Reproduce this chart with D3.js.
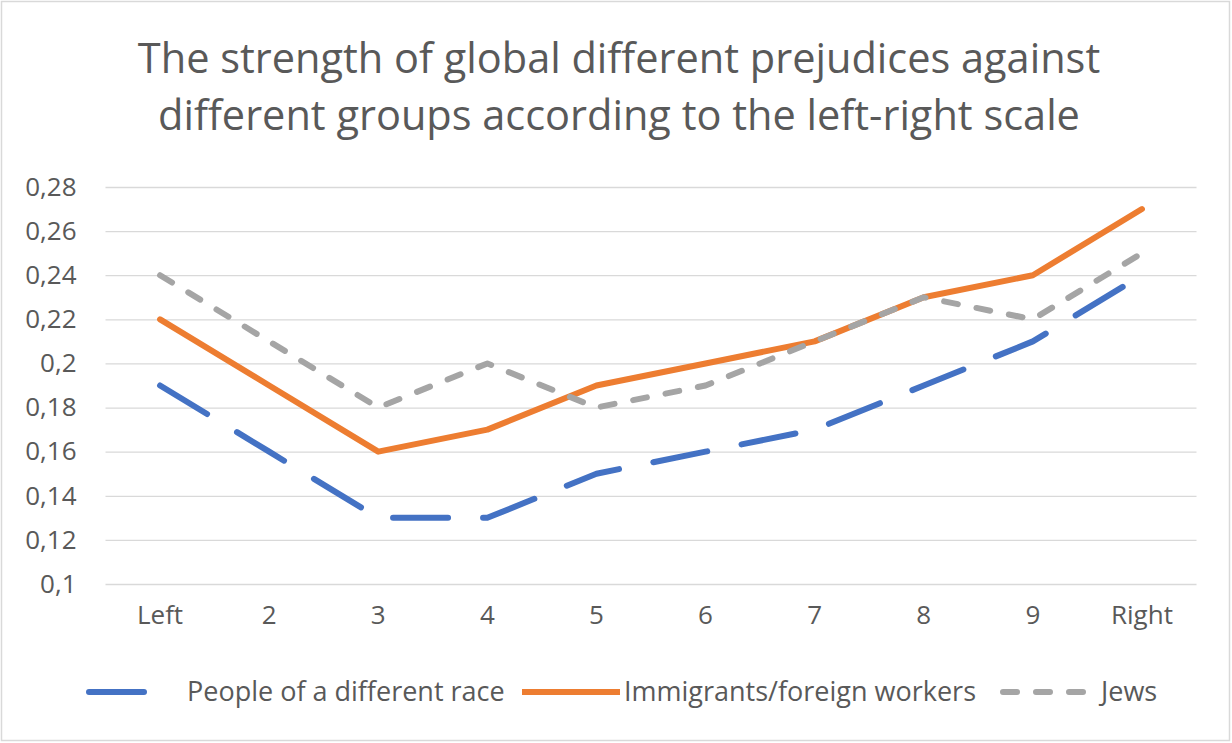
<!DOCTYPE html>
<html>
<head>
<meta charset="utf-8">
<script src="https://cdn.jsdelivr.net/npm/d3@7"></script>
<style>
  body { margin: 0; background: #fff; }
  text { font-family: "Open Sans", sans-serif; fill: #595959; }
</style>
</head>
<body>
<div id="chart"></div>
<script>
// data
var categories = ["Left", "2", "3", "4", "5", "6", "7", "8", "9", "Right"];
var race = [0.19, 0.16, 0.13, 0.13, 0.15, 0.16, 0.17, 0.19, 0.21, 0.24];
var immigrants = [0.22, 0.19, 0.16, 0.17, 0.19, 0.20, 0.21, 0.23, 0.24, 0.27];
var jews = [0.24, 0.21, 0.18, 0.20, 0.18, 0.19, 0.21, 0.23, 0.22, 0.25];
var seriesNames = ["People of a different race", "Immigrants/foreign workers", "Jews"];
var titleLines = ["The strength of global different prejudices against",
                  "different groups according to the left-right scale"];

var width = 1232, height = 743;
var plot = { left: 105.5, right: 1196.5, top: 187, bottom: 584 };

// line styles per series
var styles = [
    { color: "#4472C4", dash: "55,35" },
    { color: "#ED7D31", dash: null },
    { color: "#A5A5A5", dash: "14,19" }
];
// legend layout: sample start/end, text x
var legendPos = [
    { x1: 89, x2: 147, tx: 187 },
    { x1: 522, x2: 620, tx: 624 },
    { x1: 1003, x2: 1087, tx: 1101 }
];
var legendY = 692;

var series = [race, immigrants, jews].map(function (vals, i) {
    return { name: seriesNames[i], values: vals, style: styles[i] };
});

var svg = d3.select("#chart").append("svg")
    .attr("width", width)
    .attr("height", height);

svg.append("rect")
    .attr("x", 1.5).attr("y", 1.5)
    .attr("width", width - 4).attr("height", height - 4)
    .attr("fill", "#fff")
    .attr("stroke", "#d9d9d9")
    .attr("stroke-width", 1.5);

// title
svg.append("g").selectAll("text")
    .data(titleLines)
    .enter().append("text")
    .attr("x", 619)
    .attr("y", function (d, i) { return 73 + i * 57; })
    .attr("text-anchor", "middle")
    .style("font-size", "41.5px")
    .text(function (d) { return d; });

var x = d3.scaleBand()
    .domain(categories)
    .range([plot.left, plot.right]);

var y = d3.scaleLinear()
    .domain([0.1, 0.28])
    .range([plot.bottom, plot.top]);

var fmt = function (v) { return String(+v.toFixed(2)).replace(".", ","); };

// gridlines + y labels
var yAxis = svg.append("g")
    .attr("transform", "translate(" + plot.left + ",0)")
    .call(d3.axisLeft(y)
        .ticks(9)
        .tickSize(-(plot.right - plot.left))
        .tickPadding(29)
        .tickFormat(fmt));
yAxis.select(".domain").remove();
yAxis.selectAll(".tick line")
    .attr("stroke", "#d9d9d9")
    .attr("stroke-width", 1.3);
yAxis.selectAll(".tick text")
    .style("font-size", "26px")
    .attr("fill", "#595959")
    .attr("font-family", "Open Sans");

// x labels
var xAxis = svg.append("g")
    .attr("transform", "translate(0," + plot.bottom + ")")
    .call(d3.axisBottom(x).tickSize(0).tickPadding(22));
xAxis.select(".domain").remove();
xAxis.selectAll(".tick text")
    .style("font-size", "26px")
    .attr("fill", "#595959")
    .attr("font-family", "Open Sans");

var line = d3.line()
    .x(function (d, i) { return x(categories[i]) + x.bandwidth() / 2; })
    .y(function (d) { return y(d); });

svg.append("g").selectAll("path")
    .data(series)
    .enter().append("path")
    .attr("d", function (d) { return line(d.values); })
    .attr("fill", "none")
    .attr("stroke", function (d) { return d.style.color; })
    .attr("stroke-width", 6)
    .attr("stroke-linejoin", "round")
    .attr("stroke-linecap", "round")
    .attr("stroke-dasharray", function (d) { return d.style.dash; });

// legend
var legend = svg.append("g").selectAll("g")
    .data(series)
    .enter().append("g");

legend.append("line")
    .attr("x1", function (d, i) { return legendPos[i].x1; })
    .attr("x2", function (d, i) { return legendPos[i].x2; })
    .attr("y1", legendY).attr("y2", legendY)
    .attr("stroke", function (d) { return d.style.color; })
    .attr("stroke-width", 6)
    .attr("stroke-linecap", function (d) { return d.style.dash ? "round" : "butt"; })
    .attr("stroke-dasharray", function (d) { return d.style.dash; });

legend.append("text")
    .attr("x", function (d, i) { return legendPos[i].tx; })
    .attr("y", legendY)
    .attr("dy", "0.35em")
    .style("font-size", "27px")
    .text(function (d) { return d.name; });
</script>
</body>
</html>
